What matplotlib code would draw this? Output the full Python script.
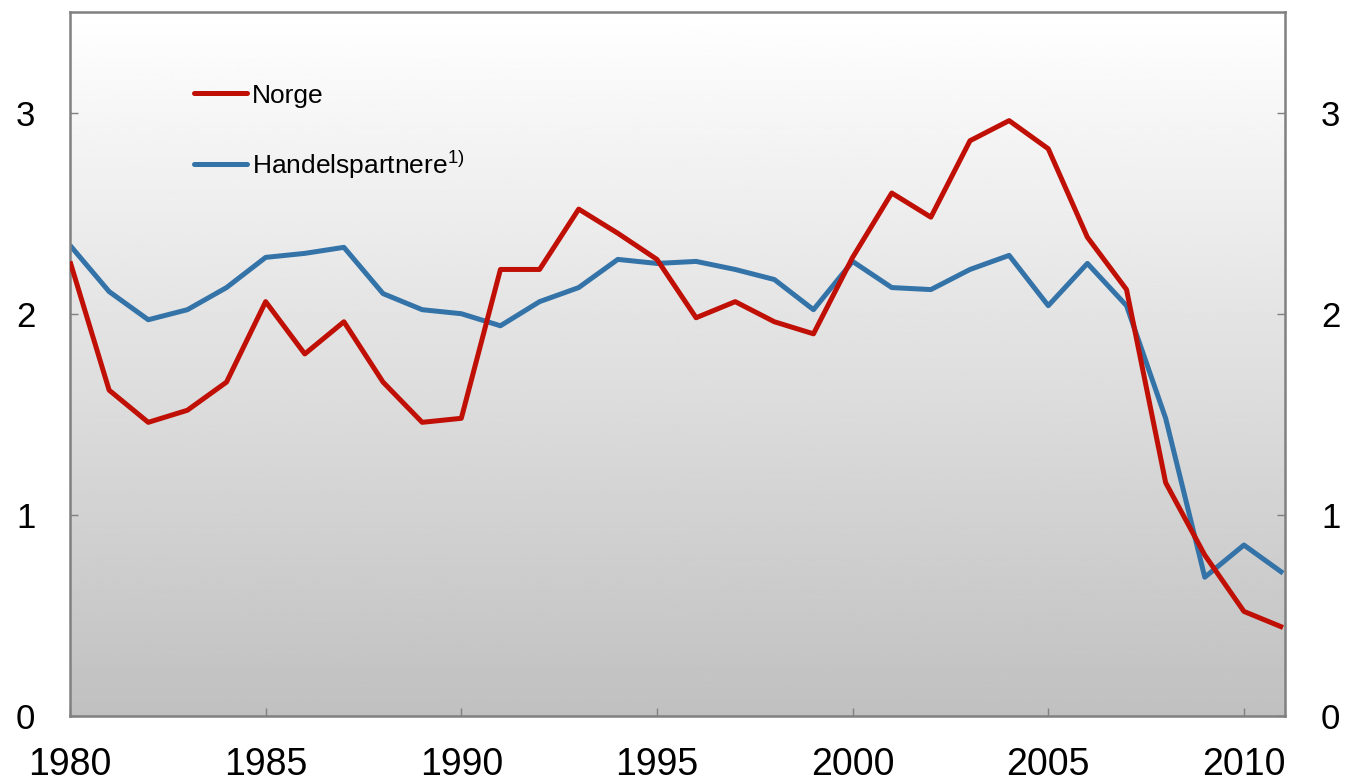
import numpy as np
import matplotlib
matplotlib.use("Agg")
import matplotlib.pyplot as plt

plt.rcParams['font.family'] = ['Liberation Sans', 'DejaVu Sans']
plt.rcParams['mathtext.default'] = 'regular'

years = list(range(1980, 2012))
norge = [2.26, 1.62, 1.46, 1.52, 1.66, 2.06, 1.80, 1.96, 1.66, 1.46,
         1.48, 2.22, 2.22, 2.52, 2.40, 2.27, 1.98, 2.06, 1.96, 1.90,
         2.28, 2.60, 2.48, 2.86, 2.96, 2.82, 2.38, 2.12, 1.16, 0.80,
         0.52, 0.44]
handel = [2.34, 2.11, 1.97, 2.02, 2.13, 2.28, 2.30, 2.33, 2.10, 2.02,
          2.00, 1.94, 2.06, 2.13, 2.27, 2.25, 2.26, 2.22, 2.17, 2.02,
          2.26, 2.13, 2.12, 2.22, 2.29, 2.04, 2.25, 2.04, 1.48, 0.69,
          0.85, 0.71]
xticks = [1980, 1985, 1990, 1995, 2000, 2005, 2010]
yticks = [0, 1, 2, 3]

fig = plt.figure(figsize=(13.46, 7.82), dpi=100)
ax = fig.add_axes([70 / 1346, 66 / 782, 1215 / 1346, 704 / 782])

xmin, xmax, ymin, ymax = 1980, 2011.05, 0, 3.5

# grey gradient background
grad = np.linspace(1.0, 0.753, 256).reshape(-1, 1)
ax.imshow(grad, cmap='gray', vmin=0, vmax=1, aspect='auto',
          extent=[xmin, xmax, ymin, ymax], origin='upper', zorder=0)

ax.plot(years, norge, color='#c00f05', lw=3.6, label='Norge',
        solid_capstyle='butt', zorder=3)
ax.plot(years, handel, color='#3473a8', lw=3.6, label='Handelspartnere$^{1)}$',
        solid_capstyle='butt', zorder=2)

ax.set_xlim(xmin, xmax)
ax.set_ylim(ymin, ymax)

for s in ax.spines.values():
    s.set_color('#808080')
    s.set_linewidth(1.8)

ax.set_xticks(xticks)
ax.set_yticks(yticks)
ax.tick_params(axis='both', direction='in', color='#808080', length=6, width=1)
ax.tick_params(axis='y', left=True, right=True, labelleft=True, labelright=False,
               labelsize=25, pad=25)
ax.tick_params(axis='x', labelsize=27, pad=22)

sec = ax.secondary_yaxis('right')
sec.set_yticks(yticks)
sec.spines['right'].set_visible(False)
sec.tick_params(axis='y', direction='in', length=0, labelsize=25, pad=26)

leg = ax.legend(loc='upper left', bbox_to_anchor=(0.091, 0.917), frameon=False,
                fontsize=19, handlelength=2.0, handletextpad=0.2,
                labelspacing=1.55, borderpad=0)
for line in leg.get_lines():
    line.set_linewidth(3.6)
    line.set_solid_capstyle('round')

fig.savefig('out.png', dpi=100)
